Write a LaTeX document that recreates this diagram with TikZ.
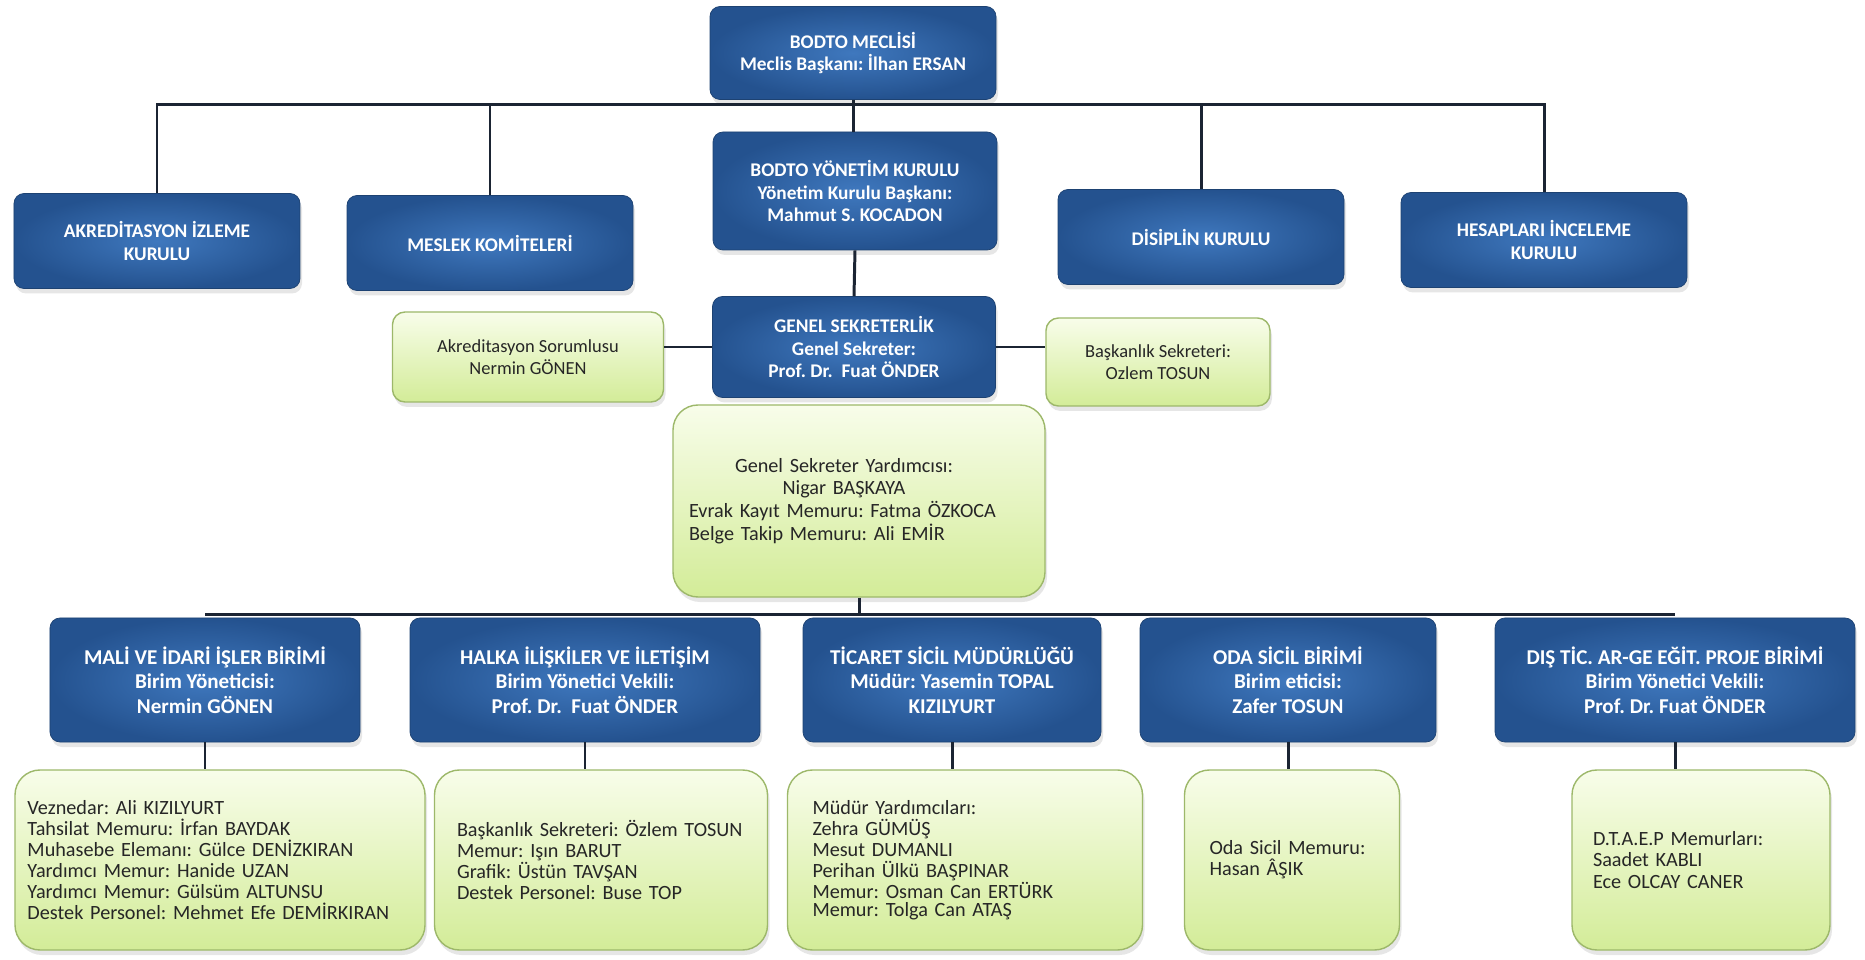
\documentclass[tikz,border=0pt]{standalone}
\usepackage{fontspec}
\setmainfont{Carlito}
\frenchspacing
\usetikzlibrary{shadows}
\definecolor{bluedark}{HTML}{24528F}
\definecolor{bluelight}{HTML}{3F78BE}
\definecolor{greentop}{HTML}{F8FDEA}
\definecolor{greenbot}{HTML}{D3EC98}
\definecolor{greenedge}{HTML}{9DB86A}
\definecolor{linkcol}{HTML}{1B2433}
\begin{document}
\begin{tikzpicture}[x=0.2mm, y=-0.2mm,
  unit/.style={rounded corners=2mm, inner sep=0pt, align=center, text=white,
    font=\fontsize{11}{13}\selectfont\bfseries, inner color=bluelight, outer color=bluedark,
    draw=bluedark!80!black, line width=0.4pt,
    drop shadow={opacity=0.2, shadow xshift=0.4mm, shadow yshift=-1mm}},
  board/.style={unit, minimum width=57.2mm, minimum height=19mm},
  dept/.style={unit, minimum height=24.8mm, font=\fontsize{12}{14}\selectfont\bfseries},
  aide/.style={rounded corners=2.5mm, inner sep=0pt, align=center, text=black!85,
    font=\fontsize{10.5}{12.5}\selectfont, top color=greentop, bottom color=greenbot,
    draw=greenedge, line width=0.8pt,
    drop shadow={opacity=0.2, shadow xshift=0.4mm, shadow yshift=-1mm}},
  staff/.style={aide, rounded corners=5mm, align=left, inner xsep=5mm, minimum height=36mm,
    font=\fontsize{11.5}{12}\selectfont},
  link/.style={draw=linkcol, line width=1.7pt}]
\useasboundingbox (0,0) rectangle (1865,960);
\node[unit, minimum width=57.2mm, minimum height=18.6mm] (meclis) at (853,53) {BODTO MECLİSİ\\Meclis Başkanı: İlhan ERSAN};
\node[board] (akred) at (157,241) {AKREDİTASYON İZLEME\\KURULU};
\node[board] (meslek) at (490,243) {MESLEK KOMİTELERİ};
\node[unit, minimum width=56.8mm, minimum height=23.6mm] (yonetim) at (855,191) {BODTO YÖNETİM KURULU\\Yönetim Kurulu Başkanı:\\Mahmut S. KOCADON};
\node[board] (disiplin) at (1201,237) {DİSİPLİN KURULU};
\node[board] (hesap) at (1544,240) {HESAPLARI İNCELEME\\KURULU};
\node[unit, minimum width=56.6mm, minimum height=20.2mm] (sekreterlik) at (854,347) {GENEL SEKRETERLİK\\Genel Sekreter:\\Prof. Dr.\ \ Fuat ÖNDER};
\node[aide, minimum width=54.2mm, minimum height=18mm] (akredsor) at (528,357) {Akreditasyon Sorumlusu\\Nermin GÖNEN};
\node[aide, minimum width=44.8mm, minimum height=17.6mm] (baskansek) at (1158,362) {Başkanlık Sekreteri:\\Ozlem TOSUN};
\node[aide, rounded corners=5mm, align=left, text width=68mm, inner xsep=3.2mm, minimum height=38.4mm,
  font=\fontsize{11.5}{13}\selectfont] (yardimci) at (859,501)
  {\makebox[62mm]{Genel Sekreter Yardımcısı:}\\\makebox[62mm]{Nigar BAŞKAYA}\\Evrak Kayıt Memuru: Fatma ÖZKOCA\\Belge Takip Memuru: Ali EMİR};
\node[dept, minimum width=62mm] (mali) at (205,680) {MALİ VE İDARİ İŞLER BİRİMİ\\Birim Yöneticisi:\\Nermin GÖNEN};
\node[dept, minimum width=70mm] (halka) at (585,680) {HALKA İLİŞKİLER VE İLETİŞİM\\Birim Yönetici Vekili:\\Prof. Dr.\ \ Fuat ÖNDER};
\node[dept, minimum width=59.6mm] (ticaret) at (952,680) {TİCARET SİCİL MÜDÜRLÜĞÜ\\Müdür: Yasemin TOPAL\\KIZILYURT};
\node[dept, minimum width=59.2mm] (oda) at (1288,680) {ODA SİCİL BİRİMİ\\Birim eticisi:\\Zafer TOSUN};
\node[dept, minimum width=72mm] (dis) at (1675,680) {DIŞ TİC. AR-GE EĞİT. PROJE BİRİMİ\\Birim Yönetici Vekili:\\Prof. Dr. Fuat ÖNDER};
\node[staff, inner xsep=2.5mm, text width=77mm] (mali-staff) at (220,860) {Veznedar: Ali KIZILYURT\\Tahsilat Memuru: İrfan BAYDAK\\Muhasebe Elemanı: Gülce DENİZKIRAN\\Yardımcı Memur: Hanide UZAN\\Yardımcı Memur: Gülsüm ALTUNSU\\Destek Personel: Mehmet Efe DEMİRKIRAN};
\node[staff, inner xsep=4.5mm, text width=57.6mm] (halka-staff) at (601,860) {Başkanlık Sekreteri: Özlem TOSUN\\Memur: Işın BARUT\\Grafik: Üstün TAVŞAN\\Destek Personel: Buse TOP};
\node[staff, text width=61mm] (ticaret-staff) at (965,860) {Müdür Yardımcıları:\\Zehra GÜMÜŞ\\Mesut DUMANLI\\Perihan Ülkü BAŞPINAR\\Memur: Osman Can ERTÜRK\\[-2pt]Memur: Tolga Can ATAŞ};
\node[staff, text width=33mm] (oda-staff) at (1292,860) {Oda Sicil Memuru:\\Hasan ÂŞIK};
\node[staff, inner xsep=4.2mm, text width=43.2mm] (dis-staff) at (1701,860) {D.T.A.E.P Memurları:\\Saadet KABLI\\Ece OLCAY CANER};
\coordinate (topbus) at ([yshift=-1mm]meclis.south);
\coordinate (lowbus) at ([yshift=0.6mm]mali.north);
\draw[link] (akred.north) |- (topbus) -| (hesap.north);
\draw[link] (meslek.north) -- (meslek.north |- topbus);
\draw[link] (disiplin.north) -- (disiplin.north |- topbus);
\draw[link] (meclis.south) -- (meclis.south |- yonetim.north);
\draw[link] (yonetim.south) -- (sekreterlik.north);
\draw[link] (akredsor.east |- sekreterlik.west) -- (sekreterlik.west);
\draw[link] (sekreterlik.east) -- (sekreterlik.east -| baskansek.west);
\draw[link] (yardimci.south) -- (yardimci.south |- lowbus);
\draw[link] (lowbus) -- (lowbus -| dis.north);
\foreach \d in {mali,halka,ticaret,oda,dis}
  \draw[link] (\d.south) -- (\d.south |- \d-staff.north);
\end{tikzpicture}
\end{document}
